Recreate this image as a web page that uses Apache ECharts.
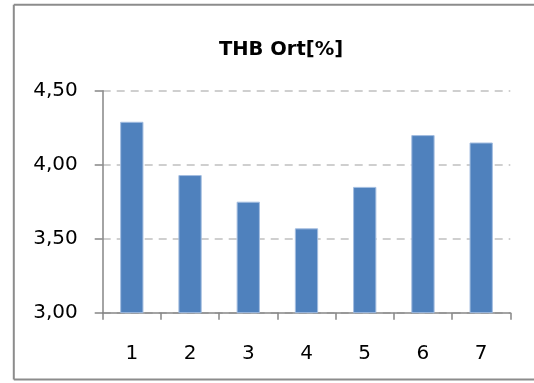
<!DOCTYPE html>
<html>
<head>
<meta charset="utf-8">
<script src="https://cdn.jsdelivr.net/npm/echarts@6/dist/echarts.min.js"></script>
<style>
html,body{margin:0;padding:0;background:#fff;overflow:hidden;}
#chart{width:534px;height:383px;}
</style>
</head>
<body>
<div id="chart"></div>
<script>
const titleText = 'THB Ort[%]';
const categories = ['1', '2', '3', '4', '5', '6', '7'];
const values = [4.29, 3.93, 3.75, 3.57, 3.85, 4.20, 4.15];
const yMin = 3.0, yMax = 4.5, yStep = 0.5;

const chart = echarts.init(document.getElementById('chart'), null, {renderer: 'canvas'});
const font = 'DejaVu Sans';
const borderStyle = {stroke: '#8c8c8c', lineWidth: 2};
chart.setOption({
  animation: false,
  backgroundColor: '#ffffff',
  title: {
    text: titleText,
    left: 276, top: 35, textAlign: 'center',
    textStyle: {fontFamily: font, fontWeight: 'bold', fontSize: 19.5, color: '#000'}
  },
  graphic: [
    {type: 'line', shape: {x1: 13.8, y1: 4.8, x2: 540, y2: 4.8}, style: borderStyle, silent: true},
    {type: 'line', shape: {x1: 13.8, y1: 4.8, x2: 13.8, y2: 379.4}, style: borderStyle, silent: true},
    {type: 'line', shape: {x1: 13.8, y1: 379.4, x2: 540, y2: 379.4}, style: borderStyle, silent: true}
  ],
  grid: {left: 102.7, right: 23.7, top: 90.7, bottom: 70.3, containLabel: false},
  xAxis: {
    type: 'category',
    data: categories,
    boundaryGap: true,
    axisLine: {lineStyle: {color: '#868686', width: 1.5}},
    axisTick: {show: true, length: 7, lineStyle: {color: '#868686', width: 1.5}},
    axisLabel: {fontFamily: font, fontSize: 20, color: '#000', margin: 31},
    splitLine: {show: false}
  },
  yAxis: {
    type: 'value',
    min: yMin, max: yMax, interval: yStep,
    axisLine: {show: true, lineStyle: {color: '#868686', width: 1.5}},
    axisTick: {show: true, length: 8, lineStyle: {color: '#868686', width: 1.5}},
    axisLabel: {
      fontFamily: font, fontSize: 20, color: '#000', margin: 25,
      formatter: v => v.toFixed(2).replace('.', ',')
    },
    splitLine: {show: true, lineStyle: {color: '#c0c0c0', width: 1.5, type: [8, 6]}}
  },
  series: [{
    type: 'bar',
    data: values,
    barWidth: '40%',
    itemStyle: {color: '#4f81bd', borderColor: '#a3bde0', borderWidth: 1}
  }]
});
</script>
</body>
</html>
